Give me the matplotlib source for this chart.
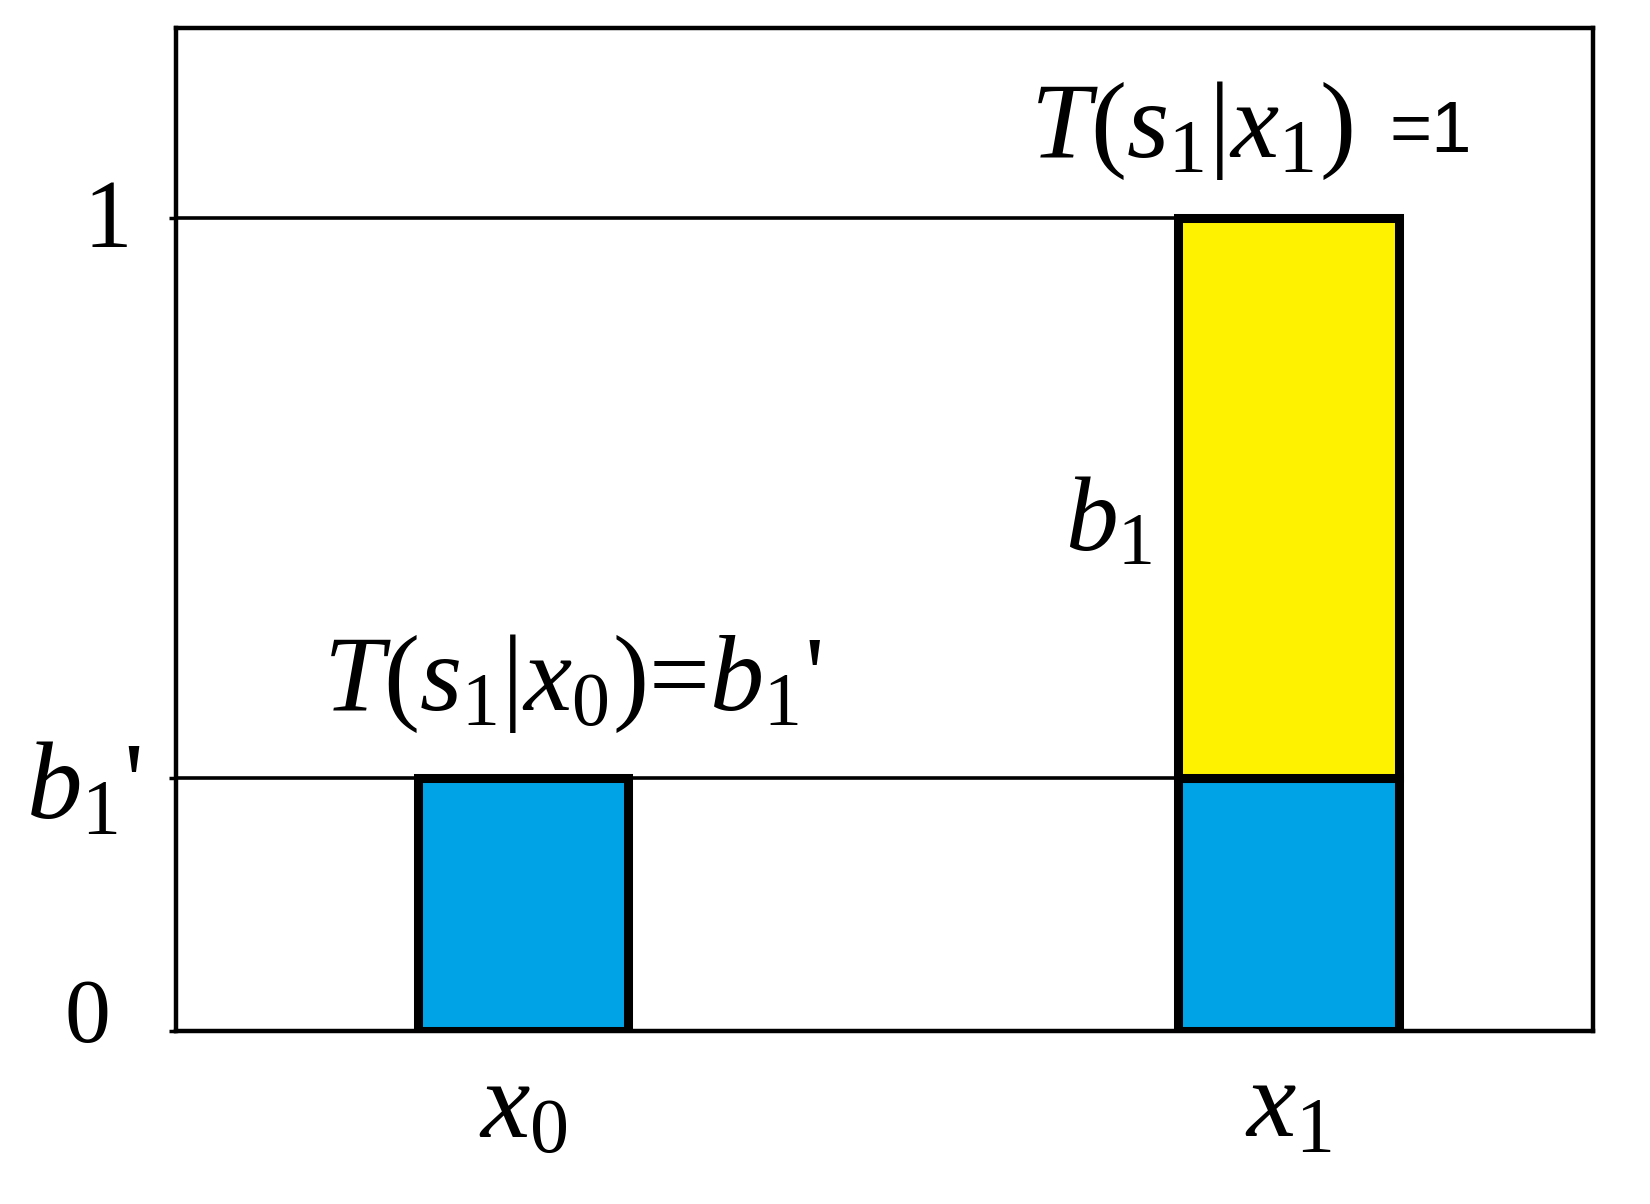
import numpy as np
import matplotlib.pyplot as plt

plt.rcParams['mathtext.fontset'] = 'custom'
plt.rcParams['mathtext.rm'] = 'Liberation Serif'
plt.rcParams['mathtext.it'] = 'Liberation Serif:italic'
plt.rcParams['mathtext.bf'] = 'Liberation Serif:bold'
plt.rcParams['font.family'] = ['Liberation Serif', 'DejaVu Serif']

# bar layout (x in arbitrary units)
positions = [1.65, 5.29]
widths = [1.0, 1.05]
b1_prime = 0.311
blue_heights = [b1_prime, b1_prime]
yellow_height = 1 - b1_prime
x_labels = [r'$x_0$', r'$x_1$']
y_ticks = [0, b1_prime, 1]
y_labels = [r'$0$', r"$b_1$'", r'$1$']
y_label_sizes = [66, 80, 70]
y_label_x = [-0.0635, -0.0656, -0.050]   # axes fraction, label centres
y_label_shift = [-0.013, -0.051, -0.035]  # baseline relative to tick

blue = '#00A3E6'
yellow = '#FFF200'

fig = plt.figure(figsize=(16.5, 12.04), dpi=100)
ax = fig.add_axes([0.1067, 0.1437, 0.859, 0.833])

# reference lines, stopping at the x1 bar
stop = positions[1] - widths[1] / 2
ax.hlines([1, b1_prime], 0, stop, color='black', lw=2.6, zorder=1)

ax.bar(positions, blue_heights, width=widths, color=blue,
       edgecolor='black', linewidth=6.5, zorder=2)
ax.bar(positions[1], yellow_height, bottom=b1_prime, width=widths[1],
       color=yellow, edgecolor='black', linewidth=6.5, zorder=2)

ax.set_xlim(0, 6.74)
ax.set_ylim(0, 1.234)

for s in ax.spines.values():
    s.set_linewidth(3.2)

ax.set_xticks(positions)
ax.set_xticklabels(x_labels, fontsize=80)
ax.tick_params(axis='x', length=0, pad=22)
ax.set_yticks(y_ticks)
ax.set_yticklabels([])
ax.tick_params(axis='y', length=5, width=2.5, direction='out')

ytr = ax.get_yaxis_transform()
for y, lab, fs, lx, dy in zip(y_ticks, y_labels, y_label_sizes,
                              y_label_x, y_label_shift):
    ax.text(lx, y + dy, lab, fontsize=fs, ha='center', va='baseline',
            transform=ytr)

ax.text(4.06, 1.076, r'$T(s_1|x_1)$', fontsize=78,
        ha='left', va='baseline')
ax.text(5.77, 1.082, '=1', fontsize=52, family='Liberation Sans',
        ha='left', va='baseline')
ax.text(0.70, 0.395, r"$T(s_1|x_0)$=$b_1$'", fontsize=78,
        ha='left', va='baseline')
ax.text(4.64, 0.592, r'$b_1$', fontsize=76, ha='right', va='baseline')

fig.savefig('out.png', dpi=100)
